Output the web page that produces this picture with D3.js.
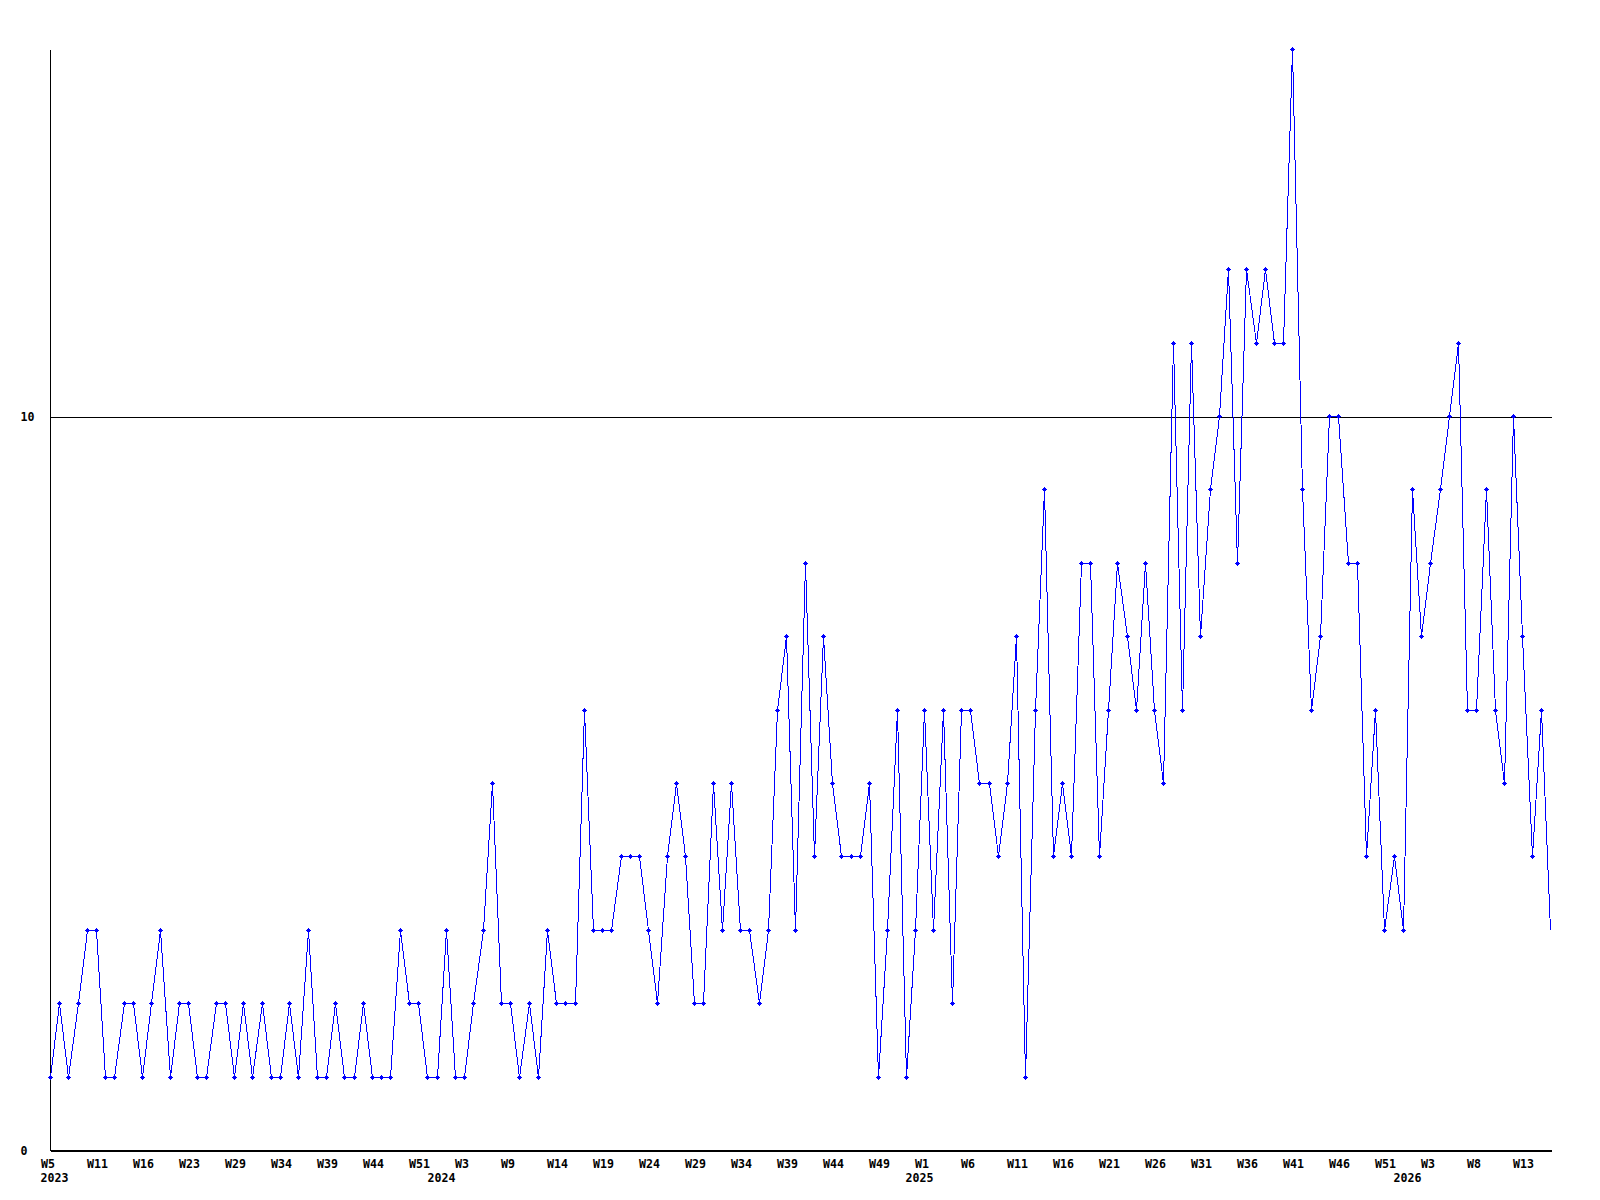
<!DOCTYPE html>
<html>
<head>
<meta charset="utf-8">
<script src="https://cdn.jsdelivr.net/npm/d3@7"></script>
<style>
  body { margin: 0; background: #fff; }
  svg { display: block; }
  .axis text { font-family: "DejaVu Sans Mono", monospace; font-weight: bold; font-size: 11.6px; fill: #000; }
  .axis path, .axis line { stroke: #000; shape-rendering: crispEdges; }
  .series { fill: none; stroke: #0000ff; stroke-width: 1; shape-rendering: crispEdges; }
  .marker { fill: #0000ff; shape-rendering: crispEdges; }
</style>
</head>
<body>
<div id="chart"></div>
<script>
// weekly counts, W5 2023 .. W15 2026
var counts = [
  1, 2, 1, 2, 3, 3, 1, 1, 2, 2,
  1, 2, 3, 1, 2, 2, 1, 1, 2, 2,
  1, 2, 1, 2, 1, 1, 2, 1, 3, 1,
  1, 2, 1, 1, 2, 1, 1, 1, 3, 2,
  2, 1, 1, 3, 1, 1, 2, 3, 5, 2,
  2, 1, 2, 1, 3, 2, 2, 2, 6, 3,
  3, 3, 4, 4, 4, 3, 2, 4, 5, 4,
  2, 2, 5, 3, 5, 3, 3, 2, 3, 6,
  7, 3, 8, 4, 7, 5, 4, 4, 4, 5,
  1, 3, 6, 1, 3, 6, 3, 6, 2, 6,
  6, 5, 5, 4, 5, 7, 1, 6, 9, 4,
  5, 4, 8, 8, 4, 6, 8, 7, 6, 8,
  6, 5, 11, 6, 11, 7, 9, 10, 12, 8,
  12, 11, 12, 11, 11, 15, 9, 6, 7, 10,
  10, 8, 8, 4, 6, 3, 4, 3, 9, 7,
  8, 9, 10, 11, 6, 6, 9, 6, 5, 10,
  7, 4, 6, 3
];

// one label every 5 points
var weekLabels = [
  "W5", "W11", "W16", "W23", "W29", "W34", "W39", "W44", "W51",
  "W3", "W9", "W14", "W19", "W24", "W29", "W34", "W39", "W44", "W49",
  "W1", "W6", "W11", "W16", "W21", "W26", "W31", "W36", "W41", "W46", "W51",
  "W3", "W8", "W13"
];
var labelStep = 5;

var yearLabels = ["2023", "2024", "2025", "2026"];
var yearIndex  = [0, 42, 94, 147];

var yTicks = [0, 10];
var yMax = 15;

var width = 1600, height = 1200;
var plotLeft = 50, plotRight = 1550, plotTop = 49, plotBottom = 1150;

var svg = d3.select("#chart").append("svg")
    .attr("width", width)
    .attr("height", height);

var x = d3.scaleLinear()
    .domain([0, counts.length - 1])
    .rangeRound([plotLeft, plotRight]);

var y = d3.scaleLinear()
    .domain([0, yMax])
    .rangeRound([plotBottom, plotTop]);

var g = svg.append("g").attr("transform", "translate(0.5,0.5)");

// y axis with a rule at each tick
var yAxis = d3.axisLeft(y)
    .tickValues(yTicks)
    .tickSize(-(plotRight - plotLeft + 1))
    .tickFormat(d3.format("d"));

g.append("g")
    .attr("class", "axis")
    .attr("transform", "translate(" + plotLeft + ",0)")
    .call(yAxis)
    .call(function(a) {
      a.select(".domain").remove();
      a.selectAll("text")
        .attr("x", 20 - plotLeft)
        .attr("dy", "0.35em")
        .style("text-anchor", "start");
    });

// vertical axis line
g.append("line")
    .attr("x1", plotLeft).attr("x2", plotLeft)
    .attr("y1", plotTop).attr("y2", plotBottom)
    .attr("stroke", "#000")
    .style("shape-rendering", "crispEdges");

// x axis: week labels
var xTickIdx = weekLabels.map(function(d, i) { return i * labelStep; });
var xAxis = d3.axisBottom(x)
    .tickValues(xTickIdx)
    .tickSize(0)
    .tickPadding(0)
    .tickFormat(function(d) { return weekLabels[d / labelStep]; });

g.append("g")
    .attr("class", "axis")
    .attr("transform", "translate(0," + plotBottom + ")")
    .call(xAxis)
    .call(function(a) {
      a.select(".domain").attr("d", "M" + plotLeft + ",0H" + (plotRight + 1));
      a.selectAll("text")
        .attr("x", -10)
        .attr("y", 17)
        .attr("dy", null)
        .style("text-anchor", "start");
    });

// year labels under the weeks
g.append("g")
    .attr("class", "axis")
    .selectAll("text")
    .data(yearLabels)
    .enter().append("text")
    .attr("x", function(d, i) { return x(yearIndex[i]) - 10; })
    .attr("y", plotBottom + 31)
    .text(function(d) { return d; });

// the series
var line = d3.line()
    .x(function(d, i) { return x(i); })
    .y(function(d) { return y(d); });

g.append("path")
    .datum(counts)
    .attr("class", "series")
    .attr("d", line);

// small plus markers (last point has none)
g.selectAll(".marker")
    .data(counts.slice(0, counts.length - 1))
    .enter().append("g")
    .attr("class", "marker")
    .attr("transform", function(d, i) { return "translate(" + (x(i) - 0.5) + "," + (y(d) - 0.5) + ")"; })
    .each(function() {
      var m = d3.select(this);
      m.append("rect").attr("x", -2).attr("y", 0).attr("width", 5).attr("height", 1);
      m.append("rect").attr("x", 0).attr("y", -2).attr("width", 1).attr("height", 5);
      m.append("rect").attr("x", -1).attr("y", -1).attr("width", 3).attr("height", 3);
    });
</script>
</body>
</html>
